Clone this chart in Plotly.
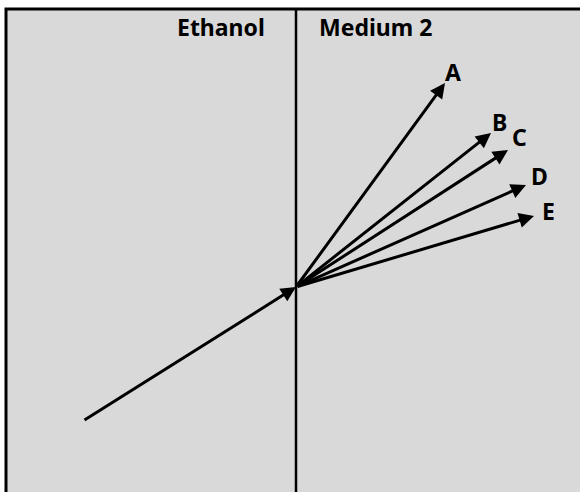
import plotly.graph_objects as go

# Vector data (origin at the centre point, units = screen pixels, y up)
labels = ["A", "B", "C", "D", "E"]
vec_x = [149, 195, 212, 230, 238]
vec_y = [204, 154, 137, 102, 71]
# incoming vector (Ethanol side), tail coordinates relative to origin
in_x = [-213]
in_y = [-134]
headers = ["Ethanol", "Medium 2"]

W, H = 580, 492
OX, OY = 296, 287  # origin pixel position

fig = go.Figure()
fig.add_trace(go.Scatter(x=[0], y=[0], mode="markers", marker=dict(size=1, color="rgba(0,0,0,0)"),
                         hoverinfo="skip", showlegend=False))

# background panel with black border
fig.add_shape(type="rect", xref="paper", yref="paper",
              x0=6 / W, x1=1.05, y0=-0.05, y1=1 - 9 / H,
              fillcolor="#d9d9d9", line=dict(color="black", width=3), layer="below")
# vertical divider
fig.add_shape(type="line", xref="x", yref="paper", x0=0, x1=0, y0=-0.05, y1=1 - 9 / H,
              line=dict(color="black", width=2.5))

FONT = dict(family="Noto Sans", size=23, color="black", weight="bold")
ann = []
# incoming arrow
ann.append(dict(x=0, y=0, ax=in_x[0], ay=in_y[0], xref="x", yref="y", axref="x", ayref="y",
                showarrow=True, arrowhead=2, arrowsize=1.0, arrowwidth=3, arrowcolor="black", text=""))
shifts = [(8, -11), (8, -11), (11, -13), (13, -9), (14.5, -5.5)]
for lab, vx, vy, (sx, sy) in zip(labels, vec_x, vec_y, shifts):
    ann.append(dict(x=vx, y=vy, ax=0, ay=0, xref="x", yref="y", axref="x", ayref="y",
                    showarrow=True, arrowhead=2, arrowsize=1.0, arrowwidth=3, arrowcolor="black", text=""))
    ann.append(dict(x=vx, y=vy, xref="x", yref="y", text=lab, showarrow=False,
                    xshift=sx, yshift=-sy, xanchor="center", yanchor="middle", font=FONT))

ann.append(dict(x=-29, y=OY - 27, xref="x", yref="y", text=headers[0], showarrow=False,
                xanchor="right", yanchor="middle", font=FONT))
ann.append(dict(x=21, y=OY - 27, xref="x", yref="y", text=headers[1], showarrow=False,
                xanchor="left", yanchor="middle", font=FONT))

fig.update_layout(
    width=W, height=H, margin=dict(l=0, r=0, t=0, b=0),
    paper_bgcolor="white", plot_bgcolor="rgba(0,0,0,0)",
    xaxis=dict(range=[-OX, W - OX], visible=False, fixedrange=True),
    yaxis=dict(range=[OY - H, OY], visible=False, fixedrange=True),
    annotations=ann, showlegend=False,
)
fig.write_html("out.html", config={"displayModeBar": False},
               post_script="document.body.style.margin='0';document.body.style.overflow='hidden';")
